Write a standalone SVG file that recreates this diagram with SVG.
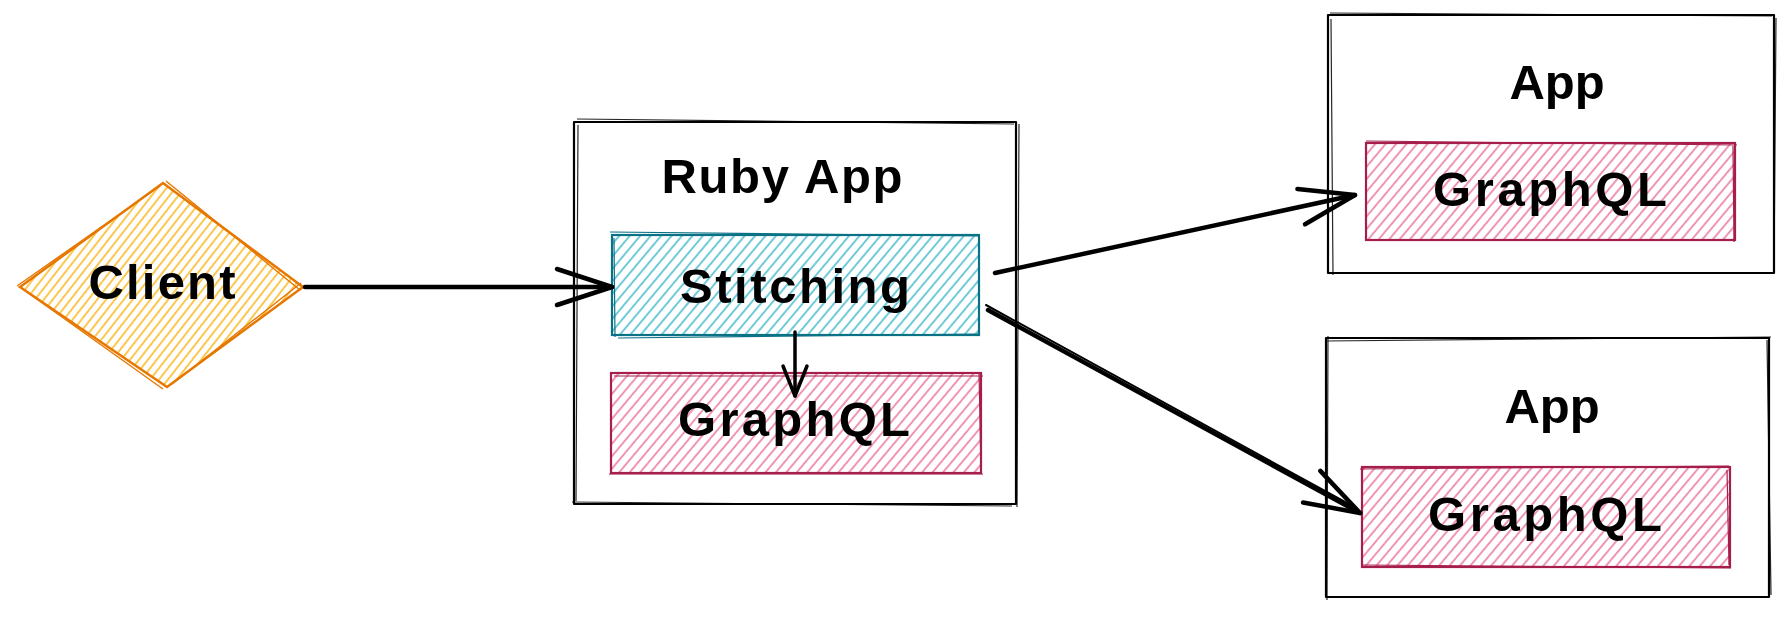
<svg xmlns="http://www.w3.org/2000/svg" width="1786" height="618" viewBox="0 0 1786 618">
<style>
.lbl{font-family:"Liberation Sans",Arial,sans-serif;font-size:49px;font-weight:bold;fill:#000;text-anchor:middle}
.box{fill:none;stroke:#000;stroke-width:2.2;stroke-linejoin:round}
.box2{fill:none;stroke:#000;stroke-width:1.2;opacity:0.85}
.conn{fill:none;stroke:#000;stroke-width:4.5;stroke-linecap:round}
.conn2{fill:none;stroke:#000;stroke-width:2;stroke-linecap:round}
.pink{fill:url(#hPink);stroke:#a61e4d;stroke-width:2.2}
.teal{fill:url(#hTeal);stroke:#0b7285;stroke-width:2.2}
.orange{fill:url(#hOrange);stroke:#e67700;stroke-width:2.5}
.pinkO{fill:none;stroke:#a61e4d;stroke-width:1.2}
.tealO{fill:none;stroke:#0b7285;stroke-width:1.2}
.orangeO{fill:none;stroke:#e67700;stroke-width:1.4}
</style>
<defs>
<pattern id="hPink" patternUnits="userSpaceOnUse" width="8" height="12" patternTransform="rotate(40)">
<rect width="8" height="12" fill="#fff"/>
<line x1="2" y1="0" x2="2" y2="12" stroke="#e64980" stroke-width="1.3" opacity="0.9"/>
</pattern>
<pattern id="hTeal" patternUnits="userSpaceOnUse" width="8" height="12" patternTransform="rotate(40)">
<rect width="8" height="12" fill="#fff"/>
<line x1="2" y1="0" x2="2" y2="12" stroke="#15aabf" stroke-width="1.3" opacity="0.95"/>
</pattern>
<pattern id="hOrange" patternUnits="userSpaceOnUse" width="7" height="12" patternTransform="rotate(38)">
<rect width="7" height="12" fill="#fff"/>
<line x1="2" y1="0" x2="2" y2="12" stroke="#fab005" stroke-width="1.4"/>
</pattern>
<marker id="arrBig" markerUnits="userSpaceOnUse" markerWidth="70" markerHeight="50" refX="60" refY="25" orient="auto" overflow="visible">
<path d="M5,7 L60,25 L5,43" fill="none" stroke="#000" stroke-width="4.5" stroke-linecap="round" stroke-linejoin="round"/>
</marker>
<marker id="arrSmall" markerUnits="userSpaceOnUse" markerWidth="40" markerHeight="30" refX="32" refY="15" orient="auto" overflow="visible">
<path d="M2,3 L32,15 L2,27" fill="none" stroke="#000" stroke-width="3.5" stroke-linecap="round" stroke-linejoin="round"/>
</marker>
</defs>

<g id="client">
<polygon class="orange" points="20,287 163,183 303,287 167,387"/>
<path class="orangeO" d="M17,286 L160,186 M166,181 L300,290 M301,283 L172,384 M163,389 L24,290"/>
<text class="lbl" x="162" y="299" textLength="147" lengthAdjust="spacing">Client</text>
</g>

<g id="ruby-app">
<rect class="box" x="574" y="122" width="442" height="382"/>
<path class="box2" d="M577,119 L1014,124 M1019,124 L1017,507 M1012,506 L572,502 M578,125 L576,501"/>
<text class="lbl" x="782" y="193" textLength="241" lengthAdjust="spacing">Ruby App</text>
</g>

<g id="stitching">
<rect class="teal" x="612" y="235" width="367" height="100"/>
<path class="tealO" d="M614,238 L615,337 M618,338 L978,334 M610,232 L980,236"/>
<text class="lbl" x="795" y="303" textLength="230" lengthAdjust="spacing">Stitching</text>
</g>

<g id="graphql-ruby">
<rect class="pink" x="611" y="373" width="370" height="100"/>
<path class="pinkO" d="M614,376 L983,376 M979,372 L981,471 M609,474 L983,474"/>
<text class="lbl" x="794" y="436" textLength="232" lengthAdjust="spacing">GraphQL</text>
</g>

<g id="app-1">
<rect class="box" x="1328" y="15" width="446" height="258"/>
<path class="box2" d="M1330,13 L1772,16 M1776,18 L1774,270 M1331,19 L1333,275"/>
<text class="lbl" x="1557" y="99">App</text>
</g>

<g id="graphql-app-1">
<rect class="pink" x="1366" y="143" width="369" height="97"/>
<path class="pinkO" d="M1366,141 L1737,145 M1733,146 L1734,242"/>
<text class="lbl" x="1550" y="206" textLength="234" lengthAdjust="spacing">GraphQL</text>
</g>

<g id="app-2">
<rect class="box" x="1326" y="338" width="443" height="259"/>
<path class="box2" d="M1325,341 L1771,337 M1328,336 L1327,600 M1767,340 L1771,595"/>
<text class="lbl" x="1552" y="423">App</text>
</g>

<g id="graphql-app-2">
<rect class="pink" x="1362" y="467" width="368" height="100"/>
<path class="pinkO" d="M1360,469 L1729,466 M1363,565 L1731,568 M1727,470 L1729,565"/>
<text class="lbl" x="1545" y="531" textLength="234" lengthAdjust="spacing">GraphQL</text>
</g>

<g id="connectors">
<path class="conn" d="M305,287 L612,287" marker-end="url(#arrBig)"/>
<path class="conn" d="M795,332 L795,396" marker-end="url(#arrSmall)" style="stroke-width:3.5"/>
<path class="conn" d="M995,273 L1355,195" marker-end="url(#arrBig)"/>
<path class="conn" d="M988,310 L1360,513" marker-end="url(#arrBig)"/>
<path class="conn2" d="M986,305 L1356,508"/>
</g>
</svg>
